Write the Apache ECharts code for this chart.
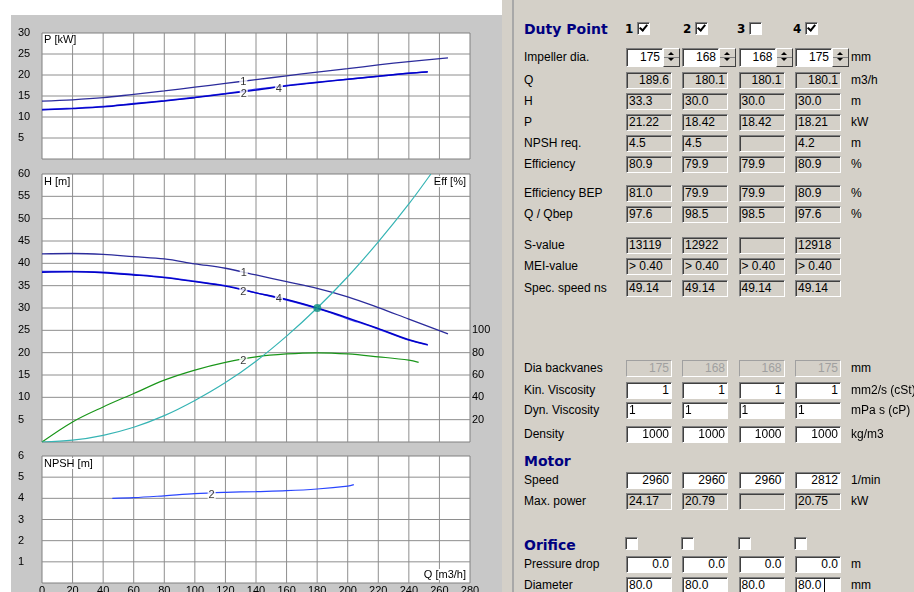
<!DOCTYPE html>
<html><head><meta charset="utf-8">
<script src="https://cdn.jsdelivr.net/npm/echarts@6/dist/echarts.min.js"></script>
<style>
html,body{margin:0;padding:0;width:914px;height:592px;overflow:hidden;background:#fff;font-family:"Liberation Sans",Arial,sans-serif;}
#leftbg{position:absolute;left:11px;top:15px;width:491px;height:577px;background:#c8c8c8;}
.plotbg{position:absolute;background:#fff;}
#chart{position:absolute;left:0;top:0;width:914px;height:592px;}
#panel{position:absolute;left:502px;top:0;width:412px;height:592px;background:#d4d0c8;overflow:hidden;}
#sep{position:absolute;left:512px;top:0;width:2px;height:592px;background:#a8a8a8;}
.t{position:absolute;font-size:12px;color:#000;white-space:nowrap;line-height:14px;}
.h{position:absolute;font-family:"DejaVu Sans",sans-serif;font-weight:bold;font-size:14px;color:#000080;white-space:nowrap;line-height:16px;}
.n{position:absolute;font-family:"DejaVu Sans",sans-serif;font-weight:bold;font-size:12px;color:#000;line-height:14px;}
.box{position:absolute;box-sizing:border-box;font-size:12px;white-space:nowrap;overflow:hidden;padding:0 2px;
 border:1px solid;border-color:#808080 #fff #fff #808080;box-shadow:inset 1px 1px 0 #404040;}
.ro{background:#d4d0c8;color:#000;}
.ed{background:#fff;color:#000;}
.dis{background:#d4d0c8;color:#a0a0a0;box-shadow:none;border-color:#a0a0a0 #fff #fff #a0a0a0;}
.cb{position:absolute;box-sizing:border-box;width:13px;height:13px;background:#fff;border:1px solid;border-color:#808080 #fff #fff #808080;box-shadow:inset 1px 1px 0 #404040;}
.cb .m{position:absolute;left:3px;top:0px;width:3px;height:6px;border-right:2px solid #000;border-bottom:2px solid #000;transform:rotate(40deg);}
.spin{position:absolute;box-sizing:border-box;background:#d4d0c8;border:1px solid;border-color:#fff #404040 #404040 #fff;}
.tri{position:absolute;left:4px;width:0;height:0;border-left:3px solid transparent;border-right:3px solid transparent;}
</style>
</head><body>
<div id="leftbg"></div>
<div class="plotbg" style="left:42px;top:33px;width:428px;height:126px"></div>
<div class="plotbg" style="left:42px;top:174px;width:428px;height:268px"></div>
<div class="plotbg" style="left:42px;top:456px;width:428px;height:127px"></div>
<div id="chart"></div>
<div id="panel"></div>
<div id="sep"></div>
<script>
// ---------------- chart data ----------------
const qP1 = [0,20,40,60,80,100,120,140,160,180,200,220,240,265.6];
const p1  = [13.8,14.1,14.6,15.4,16.2,17.1,18.0,18.9,19.8,20.7,21.5,22.4,23.2,24.1];
const qP2 = [0,20,40,60,80,100,120,140,160,180,200,220,240,252.5];
const p2  = [11.8,12.1,12.5,13.2,13.9,14.7,15.6,16.6,17.5,18.3,19.0,19.7,20.4,20.8];
const qP4 = [0,20,40,60,80,100,120,140,160,180,200,220,240,252.3];
const p4  = [11.7,12.0,12.4,13.1,13.8,14.6,15.5,16.4,17.4,18.2,19.0,19.7,20.4,20.7];

const qH1 = [0,20,40,60,80,100,120,140,160,180,200,220,240,265.6];
const h1  = [42.1,42.2,42.0,41.5,41.0,39.9,38.9,37.4,35.9,34.4,32.5,30.1,27.5,24.2];
const qH2 = [0,20,40,60,80,100,120,140,160,180,200,220,240,252.5];
const h2  = [38.2,38.2,38.0,37.5,36.9,36.0,35.0,33.4,31.8,29.9,27.6,25.3,22.8,21.7];
const qH4 = [0,20,40,60,80,100,120,140,160,180,200,220,240,252.3];
const h4  = [38.0,38.1,37.9,37.4,36.8,35.9,34.9,33.4,31.9,30.0,27.8,25.4,22.9,21.8];

const qEff2 = [0,20,40,60,80,100,120,140,160,180,200,220,240,246.4];
const eff2  = [0,18.0,31.4,43.4,55.4,64.4,71.3,76.3,78.9,79.9,78.9,76.3,73.3,71.3];

const qSys = [0,20,40,60,80,100,120,140,160,180,200,220,240,254.4];
const hSys = [0,0.4,1.5,3.3,5.9,9.3,13.3,18.1,23.7,30.0,37.0,44.8,53.3,60.0];

const qNpsh2 = [46,60,80,100,120,140,160,180,200,204];
const npsh2  = [4.0,4.03,4.12,4.22,4.28,4.32,4.36,4.44,4.58,4.65];

const dutyPoint = [180.1, 30.0];

const pCurveLabels    = [[131.7,18.4,'1'],[132,15.5,'2'],[155,16.6,'4']];
const hCurveLabels    = [[132,37.8,'1'],[131.7,33.7,'2'],[155,32.0,'4']];
const effCurveLabels  = [[131.7,72.4,'2']];
const npshCurveLabels = [[111,4.16,'2']];

// grid line tick values
const qGridTicks    = [20,40,60,80,100,120,140,160,180,200,220,240,260];
const pGridTicks    = [5,10,15,20,25];
const hGridTicks    = [5,10,15,20,25,30,35,40,45,50,55];
const npshGridTicks = [1,2,3,4,5];

const axisTitles = ['P [kW]','H [m]','Eff [%]','NPSH [m]','Q [m3/h]'];

// ---------------- panel data ----------------
const dutyCols = ['1','2','3','4'];
const dutyChecked = [true,true,false,true];
const impellerDia = ['175','168','168','175'];
const dutyQ = ['189.6','180.1','180.1','180.1'];
const dutyH = ['33.3','30.0','30.0','30.0'];
const dutyP = ['21.22','18.42','18.42','18.21'];
const npshReq = ['4.5','4.5','','4.2'];
const efficiency = ['80.9','79.9','79.9','80.9'];
const effBep = ['81.0','79.9','79.9','80.9'];
const qQbep = ['97.6','98.5','98.5','97.6'];
const sValue = ['13119','12922','','12918'];
const meiValue = ['> 0.40','> 0.40','> 0.40','> 0.40'];
const specSpeed = ['49.14','49.14','49.14','49.14'];
const diaBackvanes = ['175','168','168','175'];
const kinVisc = ['1','1','1','1'];
const dynVisc = ['1','1','1','1'];
const density = ['1000','1000','1000','1000'];
const motorSpeed = ['2960','2960','2960','2812'];
const maxPower = ['24.17','20.79','','20.75'];
const orificeChecked = [false,false,false,false];
const pressureDrop = ['0.0','0.0','0.0','0.0'];
const orificeDia = ['80.0','80.0','80.0','80.0'];

// ---------------- chart ----------------
const FONT = 'Liberation Sans';
const GRID_COLOR = '#8e8e8e';
const Q_MAX = 280;
const zip = (xs, ys) => xs.map((x, i) => [x, ys[i]]);
const gridCommon = {show:true, borderColor:'#808080', borderWidth:1, outerBoundsMode:'none'};
function xAx(i, showLabel){
  return {type:'value', gridIndex:i, min:0, max:Q_MAX, interval:20, splitLine:{show:false},
    axisLine:{show:false}, axisTick:{show:false},
    axisLabel:{show:showLabel, margin:2, color:'#000', fontSize:11, fontFamily:FONT}};
}
function yAx(i, max, interval){
  return {type:'value', gridIndex:i, min:0, max:max, interval:interval, splitLine:{show:false},
    axisLine:{show:false}, axisTick:{show:false},
    axisLabel:{show:true, align:'left', margin:24, color:'#000', fontSize:11, fontFamily:FONT,
      formatter: v => v === 0 ? '' : String(v)}};
}
// grid lines as plain line series through the axes' scales
function gridSeries(xi, yi, xTicks, yTicks, yMax){
  const out = [];
  xTicks.forEach(t => out.push({type:'line', xAxisIndex:xi, yAxisIndex:yi, data:[[t,0],[t,yMax]],
    symbol:'none', showSymbol:false, silent:true, z:3, clip:false, lineStyle:{color:GRID_COLOR, width:1}}));
  yTicks.forEach(t => out.push({type:'line', xAxisIndex:xi, yAxisIndex:yi, data:[[0,t],[Q_MAX,t]],
    symbol:'none', showSymbol:false, silent:true, z:3, clip:false, lineStyle:{color:GRID_COLOR, width:1}}));
  return out;
}
function line(name, xi, yi, xs, ys, color, width){
  return {type:'line', name, xAxisIndex:xi, yAxisIndex:yi, data:zip(xs, ys), smooth:0.35,
    showSymbol:false, symbol:'none', lineStyle:{color, width}, itemStyle:{color}, z:4, silent:true};
}
function labels(xi, yi, pts){
  return {type:'scatter', xAxisIndex:xi, yAxisIndex:yi, data:pts, symbolSize:0, z:6, silent:true,
    label:{show:true, position:'inside', formatter:p => p.data[2], color:'#000', fontSize:11, fontFamily:FONT,
      backgroundColor:'#fff', padding:[0,1,0,1]}};
}
const titleText = (txt, pos) => Object.assign({type:'text', z:50, silent:true,
  style:{text:txt, fill:'#000', font:'11px "Liberation Sans"', backgroundColor:'#fff', padding:[0,1,0,1]}}, pos);

const chart = echarts.init(document.getElementById('chart'), null, {renderer:'canvas'});
chart.setOption({
  animation:false,
  grid:[
    Object.assign({left:42, top:33, width:428, height:126}, gridCommon),
    Object.assign({left:42, top:174, width:428, height:268}, gridCommon),
    Object.assign({left:42, top:456, width:428, height:127}, gridCommon)
  ],
  xAxis:[xAx(0,false), xAx(1,false), xAx(2,true)],
  yAxis:[
    yAx(0,30,5), yAx(1,60,5), yAx(2,6,1),
    {type:'value', gridIndex:1, position:'right', min:0, max:240, interval:20,
     axisLine:{show:false}, axisTick:{show:false}, splitLine:{show:false},
     axisLabel:{show:true, align:'left', margin:2, color:'#000', fontSize:11, fontFamily:FONT,
       formatter: v => (v > 0 && v <= 100) ? String(v) : ''}}
  ],
  graphic:[
    titleText(axisTitles[0], {left:43, top:34}),
    titleText(axisTitles[1], {left:43, top:176}),
    titleText(axisTitles[2], {right:447, top:176}),
    titleText(axisTitles[3], {left:43, top:458}),
    titleText(axisTitles[4], {right:447, top:569})
  ],
  series:[].concat(
    gridSeries(0,0,qGridTicks,pGridTicks,30),
    gridSeries(1,1,qGridTicks,hGridTicks,60),
    gridSeries(2,2,qGridTicks,npshGridTicks,6),
    [
      line('P1',0,0,qP1,p1,'#2c2c9c',1.3),
      line('P2',0,0,qP2,p2,'#3b3bef',1.4),
      line('P4',0,0,qP4,p4,'#0000c8',1.4),
      line('H1',1,1,qH1,h1,'#2c2c9c',1.3),
      line('H2',1,1,qH2,h2,'#3b3bef',1.4),
      line('H4',1,1,qH4,h4,'#0000c8',1.4),
      line('Eff2',1,3,qEff2,eff2,'#1a961a',1.2),
      line('System',1,1,qSys,hSys,'#36b4b4',1.2),
      {type:'scatter', xAxisIndex:1, yAxisIndex:1, data:[dutyPoint], symbol:'circle', symbolSize:8,
       itemStyle:{color:'#0c9080'}, z:7, silent:true},
      line('NPSH2',2,2,qNpsh2,npsh2,'#2a46ff',1.2),
      labels(0,0,pCurveLabels),
      labels(1,1,hCurveLabels),
      labels(1,3,effCurveLabels),
      labels(2,2,npshCurveLabels)
    ])
});

// ---------------- form panel ----------------
const body = document.body;
const colX = [626, 682, 738.5, 795];
const unitX = 851, labelX = 524;
function add(cls, x, y, text){
  const d = document.createElement('div'); d.className = cls;
  d.style.left = x + 'px'; d.style.top = y + 'px';
  if (text !== undefined) d.textContent = text;
  body.appendChild(d); return d;
}
function textAt(x, yc, txt, cls){ return add(cls || 't', x, yc - 7, txt); }
function box(x, yc, w, h, txt, kind, align){
  const d = add('box ' + kind, x, yc - h/2, txt);
  d.style.width = w + 'px'; d.style.height = h + 'px';
  d.style.lineHeight = (h - 2) + 'px'; d.style.textAlign = align;
  return d;
}
function check(x, y, on){
  const c = add('cb', x, y);
  if (on){ const m = document.createElement('div'); m.className = 'm'; c.appendChild(m); }
}
function spinner(x, yc, h){
  const s = add('spin', x, yc - h/2); s.style.width = '17px'; s.style.height = h + 'px';
  const up = document.createElement('div'); up.className = 'tri';
  up.style.top = (h/2 - 6) + 'px'; up.style.borderBottom = '3px solid #000'; s.appendChild(up);
  const dn = document.createElement('div'); dn.className = 'tri';
  dn.style.top = (h/2 + 0) + 'px'; dn.style.borderTop = '3px solid #000'; s.appendChild(dn);
  const mid = document.createElement('div'); mid.style.cssText = 'position:absolute;left:0;right:0;height:1px;background:#808080;top:' + (h/2 - 1.5) + 'px';
  s.appendChild(mid);
}

textAt(labelX, 29, 'Duty Point', 'h').style.top = '21px';
const hdrLabelX = [625, 683, 737, 793];
dutyCols.forEach((c, i) => { textAt(hdrLabelX[i], 29, c, 'n'); check(hdrLabelX[i] + 12, 22, dutyChecked[i]); });

textAt(labelX, 57, 'Impeller dia.');
impellerDia.forEach((v, i) => { box(colX[i], 57, 37, 19, v, 'ed', 'right'); spinner(colX[i] + 37, 57, 19); });
textAt(unitX, 57, 'mm');

const rows = [
  ['Q', dutyQ, 'ro', 'right', 'm3/h', 80],
  ['H', dutyH, 'ro', 'left', 'm', 101],
  ['P', dutyP, 'ro', 'left', 'kW', 122],
  ['NPSH req.', npshReq, 'ro', 'left', 'm', 143],
  ['Efficiency', efficiency, 'ro', 'left', '%', 164],
  ['Efficiency BEP', effBep, 'ro', 'left', '%', 193],
  ['Q / Qbep', qQbep, 'ro', 'left', '%', 214],
  ['S-value', sValue, 'ro', 'left', '', 245],
  ['MEI-value', meiValue, 'ro', 'left', '', 266],
  ['Spec. speed ns', specSpeed, 'ro', 'left', '', 288],
  ['Dia backvanes', diaBackvanes, 'dis', 'right', 'mm', 368],
  ['Kin. Viscosity', kinVisc, 'ed', 'right', 'mm2/s (cSt)', 390],
  ['Dyn. Viscosity', dynVisc, 'ed', 'left', 'mPa s (cP)', 410],
  ['Density', density, 'ed', 'right', 'kg/m3', 434],
  ['Speed', motorSpeed, 'ed', 'right', '1/min', 480],
  ['Max. power', maxPower, 'ro', 'left', 'kW', 501],
  ['Pressure drop', pressureDrop, 'ed', 'right', 'm', 564],
  ['Diameter', orificeDia, 'ed', 'left', 'mm', 585]
];
rows.forEach(r => {
  textAt(labelX, r[5], r[0]);
  r[1].forEach((v, i) => box(colX[i], r[5], 46, 17, v, r[2], r[3]));
  if (r[4]) textAt(unitX, r[5], r[4]);
});
textAt(labelX, 460, 'Motor', 'h');
textAt(labelX, 544, 'Orifice', 'h');
orificeChecked.forEach((on, i) => check(colX[i] - 1, 537, on));
add('', colX[3] + 29, 578).style.cssText += ';position:absolute;width:1px;height:14px;background:#000;';
</script>
</body></html>
